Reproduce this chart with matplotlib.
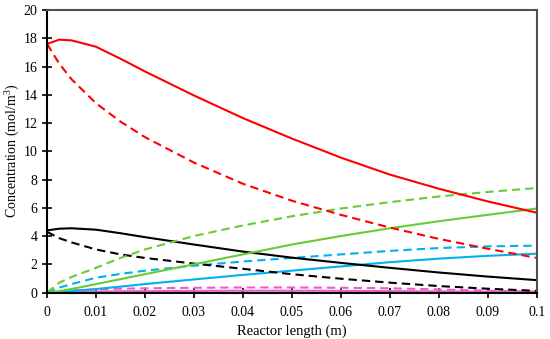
import numpy as np
import matplotlib
matplotlib.use('Agg')
import matplotlib.pyplot as plt

plt.rcParams['font.family'] = ['Liberation Serif', 'DejaVu Serif']
plt.rcParams['mathtext.fontset'] = 'custom'
plt.rcParams['mathtext.rm'] = 'Liberation Serif'

# reactor length positions (m)
z = [0, 0.0025, 0.005, 0.01, 0.015, 0.02, 0.03, 0.04, 0.05, 0.06, 0.07, 0.08, 0.09, 0.1]

red_solid = [17.6, 17.9, 17.85, 17.4, 16.55, 15.65, 13.95, 12.35, 10.9, 9.55, 8.35, 7.35, 6.45, 5.65]
red_dash = [17.6, 16.2, 15.1, 13.4, 12.1, 11.0, 9.2, 7.7, 6.5, 5.5, 4.6, 3.8, 3.1, 2.45]
green_solid = [0, 0.1, 0.25, 0.6, 0.95, 1.3, 2.0, 2.7, 3.4, 4.0, 4.55, 5.05, 5.5, 5.95]
green_dash = [0, 0.7, 1.1, 1.75, 2.45, 3.05, 4.0, 4.75, 5.4, 5.95, 6.4, 6.8, 7.12, 7.4]
black_solid = [4.4, 4.52, 4.55, 4.45, 4.2, 3.92, 3.4, 2.9, 2.47, 2.1, 1.75, 1.42, 1.13, 0.88]
black_dash = [4.3, 3.85, 3.55, 3.05, 2.7, 2.45, 2.05, 1.68, 1.3, 0.98, 0.7, 0.46, 0.27, 0.12]
blue_solid = [0, 0.04, 0.1, 0.25, 0.42, 0.6, 0.93, 1.25, 1.55, 1.85, 2.15, 2.4, 2.6, 2.75]
blue_dash = [0, 0.35, 0.6, 1.05, 1.32, 1.55, 1.9, 2.2, 2.45, 2.7, 2.95, 3.15, 3.27, 3.32]
pink_solid = [0, 0.02, 0.04, 0.07, 0.09, 0.1, 0.12, 0.13, 0.13, 0.12, 0.1, 0.08, 0.06, 0.04]
pink_dash = [0, 0.08, 0.14, 0.22, 0.27, 0.3, 0.34, 0.36, 0.36, 0.34, 0.3, 0.22, 0.13, 0.06]

fig = plt.figure(figsize=(5.5, 3.39), dpi=100)
ax = fig.add_axes([0.0855, 0.137, 0.8905, 0.8335])

lw = 1.5
dash = (0, (4, 2.4))
ax.plot(z, pink_solid, color='#E85FC8', lw=lw)
ax.plot(z, pink_dash, color='#E85FC8', lw=lw, ls=dash)
ax.plot(z, blue_solid, color='#00B0F0', lw=lw)
ax.plot(z, blue_dash, color='#00B0F0', lw=lw, ls=dash)
ax.plot(z, black_solid, color='black', lw=lw)
ax.plot(z, black_dash, color='black', lw=lw, ls=dash)
ax.plot(z, green_solid, color='#66CC33', lw=lw)
ax.plot(z, green_dash, color='#66CC33', lw=lw, ls=dash)
ax.plot(z, red_solid, color='#FF0000', lw=lw)
ax.plot(z, red_dash, color='#FF0000', lw=lw, ls=dash)

ax.set_xlim(0, 0.1)
ax.set_ylim(0, 20)
ax.set_xticks(np.arange(0, 0.1001, 0.01))
ax.set_xticklabels(['0', '0.01', '0.02', '0.03', '0.04', '0.05', '0.06', '0.07', '0.08', '0.09', '0.1'])
ax.set_yticks(range(0, 21, 2))
ax.tick_params(direction='inout', length=7, width=1.2, labelsize=10, colors='black')
ax.tick_params(axis='x', pad=6)

for s in ['left', 'bottom']:
    ax.spines[s].set_linewidth(1.5)
    ax.spines[s].set_color('black')
for s in ['top', 'right']:
    ax.spines[s].set_linewidth(1.5)
    ax.spines[s].set_color('#505050')

ax.set_xlabel('Reactor length (m)', fontsize=10.5)
ax.set_ylabel('Concentration (mol/m$^3$)', fontsize=10, labelpad=2)

fig.savefig('out.png', dpi=100)
